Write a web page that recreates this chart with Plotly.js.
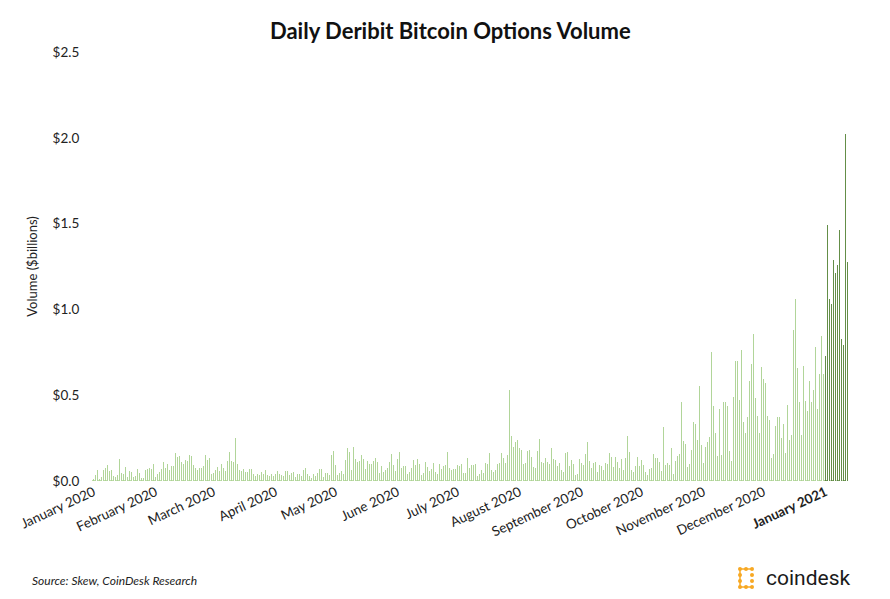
<!DOCTYPE html>
<html>
<head>
<meta charset="utf-8">
<script src="https://cdn.plot.ly/plotly-3.0.1.min.js"></script>
<style>
  html, body { margin: 0; padding: 0; background: #ffffff; }
  #chart { width: 890px; height: 599px; }
</style>
</head>
<body>
<div id="chart"></div>
<script>
// ---- Data (US$ billions, daily Deribit BTC options volume) ----
const startDate2020 = '2020-01-01';
const startDate2021 = '2021-01-01';

const volume2020 = [
  // Jan 1 .. early Apr 2020
  0.012,0.035,0.064,0.012,0.023,0.064,0.076,0.093,0.058,0.064,
  0.029,0.023,0.035,0.128,0.047,0.041,0.082,0.023,0.058,0.052,
  0.023,0.029,0.070,0.047,0.017,0.017,0.064,0.070,0.076,0.070,
  0.099,0.023,0.041,0.052,0.070,0.111,0.076,0.099,0.064,0.087,
  0.087,0.163,0.140,0.146,0.111,0.099,0.122,0.117,0.152,0.146,
  0.093,0.076,0.064,0.076,0.076,0.087,0.152,0.122,0.134,0.041,
  0.047,0.064,0.082,0.058,0.099,0.076,0.058,0.117,0.169,0.117,
  0.111,0.251,0.099,0.064,0.058,0.070,0.052,0.052,0.070,0.070,
  0.041,0.029,0.041,0.035,0.052,0.041,0.064,0.035,0.029,0.041,
  0.029,0.041,0.058,0.041,
  // Apr .. Jul 2020
  0.035,0.029,0.058,0.058,0.035,0.047,0.052,0.023,0.041,0.041,
  0.029,0.064,0.076,0.041,0.029,0.017,0.041,0.029,0.047,0.070,
  0.070,0.023,0.047,0.047,0.035,0.152,0.175,0.093,0.035,0.047,
  0.058,0.041,0.122,0.192,0.169,0.064,0.198,0.128,0.111,0.117,
  0.152,0.128,0.070,0.117,0.099,0.099,0.117,0.134,0.111,0.047,
  0.087,0.052,0.064,0.076,0.111,0.157,0.093,0.058,0.128,0.169,
  0.076,0.087,0.087,0.041,0.052,0.076,0.122,0.093,0.128,0.099,
  0.035,0.047,0.111,0.082,0.058,0.070,0.105,0.052,0.041,0.099,
  0.070,0.087,0.093,0.169,0.076,0.064,0.070,0.070,0.093,0.087,
  0.099,0.047,0.047,0.134,0.076,
  // Jul .. Oct 2020
  0.093,0.093,0.099,0.029,0.041,0.064,0.047,0.105,0.099,0.163,
  0.064,0.052,0.064,0.099,0.105,0.163,0.134,0.105,0.152,0.530,
  0.262,0.198,0.227,0.239,0.192,0.181,0.099,0.105,0.175,0.181,
  0.140,0.082,0.076,0.175,0.245,0.111,0.105,0.134,0.111,0.099,
  0.192,0.128,0.122,0.087,0.105,0.064,0.052,0.163,0.169,0.087,
  0.122,0.099,0.035,0.041,0.128,0.105,0.093,0.157,0.227,0.117,
  0.076,0.105,0.111,0.052,0.093,0.087,0.064,0.105,0.099,0.163,
  0.140,0.082,0.140,0.111,0.076,0.128,0.064,0.134,0.262,0.169,
  0.064,0.052,0.087,0.140,0.087,0.122,0.093,0.052,0.035,0.070,
  0.076,0.157,0.134,0.134,0.111,
  // Oct .. Dec 31 2020
  0.058,0.315,0.093,0.105,0.093,0.192,0.041,0.117,0.146,0.157,
  0.460,0.233,0.216,0.082,0.099,0.181,0.344,0.332,0.239,0.554,
  0.210,0.105,0.198,0.227,0.256,0.752,0.437,0.280,0.146,0.420,
  0.152,0.460,0.460,0.437,0.175,0.117,0.490,0.699,0.699,0.472,
  0.763,0.344,0.280,0.373,0.583,0.682,0.857,0.484,0.379,0.280,
  0.664,0.594,0.571,0.379,0.355,0.134,0.157,0.321,0.373,0.373,
  0.251,0.332,0.163,0.443,0.239,0.268,0.880,1.061,0.659,0.460,
  0.268,0.670,0.466,0.408,0.583,0.460,0.530,0.781,0.420,0.624,
  0.845,0.624
];

const volume2021 = [0.728,1.492,1.061,1.031,1.288,1.212,1.259,1.463,0.828,0.793,2.022,1.276];

const monthTickDates = ['2020-01-01','2020-02-01','2020-03-01','2020-04-01','2020-05-01','2020-06-01',
  '2020-07-01','2020-08-01','2020-09-01','2020-10-01','2020-11-01','2020-12-01','2021-01-01'];
const monthTickLabels = ['January 2020','February 2020','March 2020','April 2020','May 2020','June 2020',
  'July 2020','August 2020','September 2020','October 2020','November 2020','December 2020','<b>January 2021</b>'];

const yTickVals = [0, 0.5, 1.0, 1.5, 2.0, 2.5];

// ---- Helpers ----
const DAY = 86400000;
function dayList(start, n) {
  const t0 = Date.parse(start + 'T00:00:00Z');
  const out = [];
  for (let i = 0; i < n; i++) out.push(new Date(t0 + i * DAY).toISOString().slice(0, 10));
  return out;
}
function shift(dateStr, hours) {
  return new Date(Date.parse(dateStr + 'T00:00:00Z') + hours * 3600000).toISOString().slice(0, 19).replace('T', ' ');
}

const dates2020 = dayList(startDate2020, volume2020.length);
const dates2021 = dayList(startDate2021, volume2021.length);

const lightGreen = '#a9d18e';
const darkGreen = '#548235';

const allDates = dates2020.concat(dates2021);
const allVolume = volume2020.concat(volume2021);
const allColors = dates2020.map(() => lightGreen).concat(dates2021.map(() => darkGreen));

const traces = [
  { type: 'bar', x: allDates, y: allVolume, width: DAY * 0.45,
    marker: { color: allColors, line: { width: 0 } }, hoverinfo: 'x+y' }
];

// range padded so each bar lands on whole pixels
const xStart = shift(dates2020[0], -18);
const xSplit = shift(dates2021[0], -12);
const xEnd = shift(dates2021[dates2021.length - 1], 6);

// coindesk logo icon (decorative dots), in pixel coords converted to paper
const L = 92, T = 52, W = 756, H = 429;
const px = v => (v - L) / W;
const py = v => (T + H - v) / H;
const iconDots = [[740,569],[746,569],[752,569],[740,575],[740,581],[740,587],[746,587],[752,587],[752,575],[752,581]];
const logoShapes = iconDots.map(([x, y]) => ({
  type: 'circle', xref: 'paper', yref: 'paper',
  x0: px(x - 2), x1: px(x + 2), y0: py(y + 2), y1: py(y - 2),
  fillcolor: '#f7a823', line: { width: 0 }
}));
const logoLines = [
  [[740,569],[752,569]], [[740,569],[740,587]], [[740,587],[752,587]]
].map(([[a,b],[c,d]]) => ({
  type: 'line', xref: 'paper', yref: 'paper',
  x0: px(a), y0: py(b), x1: px(c), y1: py(d),
  line: { color: '#f7a823', width: 1.5 }
}));

const layout = {
  width: 890, height: 599,
  margin: { l: L, r: 890 - L - W, t: T, b: 599 - T - H },
  paper_bgcolor: '#ffffff', plot_bgcolor: '#ffffff',
  showlegend: false,
  font: { family: 'Lato, "Open Sans", sans-serif', size: 13, color: '#222' },
  title: {
    text: '<b>Daily Deribit Bitcoin Options Volume</b>',
    font: { family: 'Lato, "Open Sans", sans-serif', size: 22, color: '#111' },
    x: 0.506, xanchor: 'center', y: 0.947, yanchor: 'middle'
  },
  xaxis: {
    type: 'date',
    range: [xStart, xEnd],
    tickvals: monthTickDates,
    ticktext: monthTickLabels,
    tickangle: -25,
    ticks: '', showgrid: false, zeroline: false, showline: false,
    tickfont: { size: 13.5, color: '#222' }
  },
  yaxis: {
    range: [0, 2.5],
    tickvals: yTickVals,
    tickformat: '$.1f',
    ticks: 'outside', ticklen: 9, tickcolor: 'rgba(0,0,0,0)',
    showgrid: false, zeroline: false, showline: false,
    tickfont: { size: 13.5, color: '#222' },
    title: { text: 'Volume ($billions)', font: { size: 13, color: '#222' }, standoff: 12 }
  },
  shapes: [
    { type: 'line', xref: 'x', yref: 'y', x0: xStart, x1: xSplit, y0: 0, y1: 0,
      line: { color: lightGreen, width: 1.5, dash: 'dot' } },
    { type: 'line', xref: 'x', yref: 'y', x0: xSplit, x1: xEnd, y0: 0, y1: 0,
      line: { color: darkGreen, width: 1.5, dash: 'dot' } }
  ].concat(logoLines, logoShapes),
  annotations: [
    { text: '<i>Source: Skew, CoinDesk Research</i>', xref: 'paper', yref: 'paper',
      x: px(30), y: py(580), xanchor: 'left', yanchor: 'middle', showarrow: false,
      font: { size: 12, color: '#222' } },
    { text: 'coindesk', xref: 'paper', yref: 'paper',
      x: px(764), y: py(578), xanchor: 'left', yanchor: 'middle', showarrow: false,
      font: { family: 'Roboto, "Open Sans", sans-serif', size: 21, color: '#1a1a1a' } }
  ]
};

Plotly.newPlot('chart', traces, layout, { displayModeBar: false, staticPlot: true });
</script>
</body>
</html>
